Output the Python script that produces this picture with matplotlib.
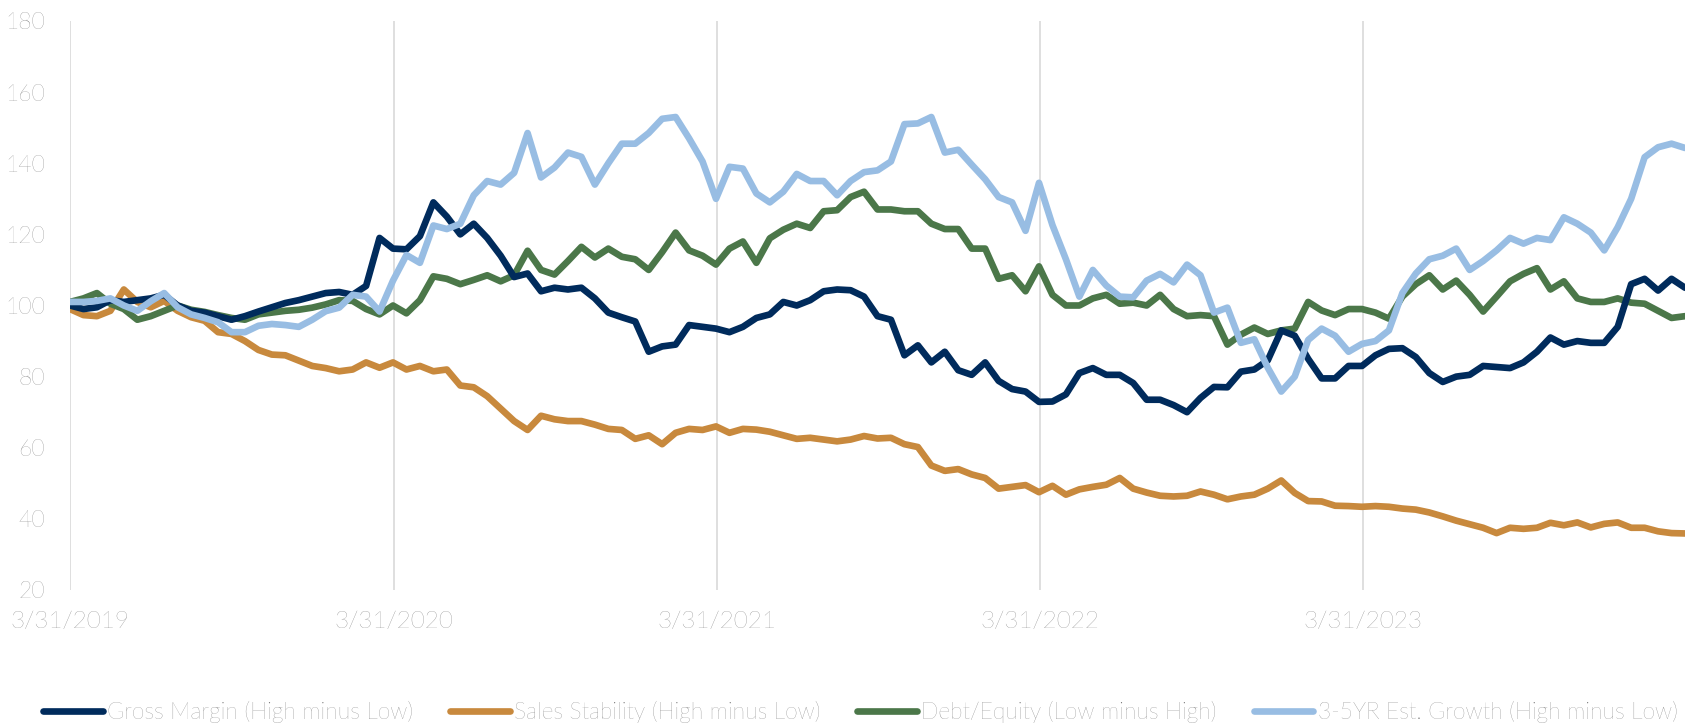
import matplotlib
matplotlib.use("Agg")
import matplotlib.pyplot as plt
import pandas as pd
import numpy as np

# semi-monthly observations, 3/31/2019 .. 3/2024
start_date = "2019-03-31"
end_date = "2024-03-29"

gross_margin = [
    100, 99, 99.5, 101.5, 101, 101.5, 102, 103, 100, 98.5,
    98, 97, 96, 97, 98.3, 99.5, 100.7, 101.5, 102.5, 103.5,
    103.8, 103, 105.5, 119, 116, 115.8, 119.5, 129, 125, 120,
    123, 119, 114, 108, 109, 104, 105, 104.5, 105, 102,
    98, 96.7, 95.5, 87, 88.5, 89, 94.5, 94, 93.5, 92.5,
    94, 96.5, 97.5, 101, 100, 101.5, 104, 104.5, 104.3, 102.5,
    97, 96, 86, 88.8, 84, 87, 81.8, 80.5, 84, 78.8,
    76.5, 75.8, 72.9, 73, 75, 81, 82.4, 80.5, 80.5, 78.2,
    73.5, 73.5, 72, 70, 74, 77.1, 77, 81.4, 82, 84.6,
    93, 91.5, 85, 79.5, 79.5, 83, 83, 86, 87.8, 88,
    85.5, 81, 78.5, 80, 80.5, 83, 82.7, 82.4, 84, 87,
    91, 89, 90, 89.5, 89.5, 94, 106, 107.5, 104.2, 107.5,
    105,
]

sales_stability = [
    99, 97.3, 97, 98.5, 104.5, 101, 99.5, 101.3, 98.5, 96.7,
    95.7, 92.5, 92, 90, 87.5, 86.2, 86, 84.5, 83, 82.4,
    81.5, 82, 84, 82.5, 84, 82, 83, 81.5, 82, 77.5,
    77, 74.5, 71, 67.5, 65, 69, 68, 67.5, 67.5, 66.5,
    65.3, 65, 62.5, 63.5, 61, 64.2, 65.3, 65, 66, 64.2,
    65.3, 65.1, 64.5, 63.5, 62.5, 62.8, 62.3, 61.8, 62.3, 63.3,
    62.6, 62.8, 61, 60.2, 55, 53.5, 54, 52.5, 51.5, 48.5,
    49, 49.5, 47.5, 49.3, 46.8, 48.3, 49, 49.6, 51.5, 48.5,
    47.4, 46.5, 46.3, 46.5, 47.7, 46.8, 45.5, 46.3, 46.8, 48.5,
    50.8, 47.3, 45, 44.9, 43.7, 43.6, 43.4, 43.6, 43.4, 42.9,
    42.6, 41.8, 40.7, 39.5, 38.5, 37.5, 36, 37.5, 37.2, 37.5,
    38.9, 38.2, 39, 37.6, 38.6, 39, 37.5, 37.5, 36.5, 36,
    35.9,
]

debt_equity = [
    101, 102, 103.5, 100.5, 99, 96, 97, 98.5, 100, 98.8,
    98.2, 97.3, 96.5, 96, 97.5, 98, 98.5, 98.8, 99.4, 100.3,
    101.5, 101.3, 99, 97.5, 100, 97.8, 101.5, 108.2, 107.5, 106,
    107.2, 108.5, 106.8, 108.5, 115.4, 110, 108.7, 112.5, 116.5, 113.5,
    116, 113.7, 113, 110, 115, 120.5, 115.5, 114, 111.5, 116,
    118, 112, 118.9, 121.3, 123, 121.8, 126.5, 126.8, 130.5, 132,
    127, 127, 126.5, 126.5, 123, 121.5, 121.5, 116, 116, 107.5,
    108.5, 104, 111, 103, 100, 100, 102, 103, 100.5, 100.8,
    100, 103, 99, 97, 97.3, 97, 89, 91.8, 93.8, 92,
    93, 93.5, 101, 98.6, 97.3, 99, 99, 98, 96.3, 102.5,
    106, 108.5, 104.5, 107, 103, 98.3, 102.5, 106.8, 108.9, 110.5,
    104.5, 106.8, 102, 101, 101, 102, 100.8, 100.5, 98.5, 96.5,
    97,
]

est_growth = [
    101, 101, 101.3, 102, 100, 98.5, 101.2, 103.5, 99.5, 97.5,
    96.5, 95.3, 92.5, 92.5, 94.3, 94.8, 94.5, 94, 96, 98.4,
    99.4, 103, 102.5, 98.3, 107, 114.2, 112, 122.5, 121.5, 123,
    131, 135, 134, 137.3, 148.5, 136, 138.8, 143, 141.8, 134,
    140, 145.5, 145.5, 148.5, 152.5, 153, 147, 140.5, 130, 139,
    138.5, 131.5, 129, 132, 137, 135, 135, 131, 135, 137.5,
    138, 140.5, 151, 151.2, 153, 143, 143.8, 139.6, 135.5, 130.5,
    129, 121, 134.5, 122.6, 113, 102.5, 110, 105.6, 102.5, 102.3,
    107, 108.9, 106.5, 111.5, 108.5, 98, 99.4, 89.5, 90.5, 82.5,
    75.8, 80, 90.3, 93.5, 91.5, 87, 89.2, 90, 93, 103.5,
    109, 113, 114, 116, 110, 112.5, 115.5, 119, 117.4, 119,
    118.4, 124.8, 123, 120.5, 115.5, 122, 130, 141.7, 144.5, 145.5,
    144.3,
]

series_labels = [
    "Gross Margin (High minus Low)",
    "Sales Stability (High minus Low)",
    "Debt/Equity (Low minus High)",
    "3-5YR Est. Growth (High minus Low)",
]
tick_dates = ["2019-03-31", "2020-03-31", "2021-03-31", "2022-03-31", "2023-03-31"]
tick_labels = ["3/31/2019", "3/31/2020", "3/31/2021", "3/31/2022", "3/31/2023"]
y_ticks = [20, 40, 60, 80, 100, 120, 140, 160, 180]

colors = ["#002b5c", "#c8893d", "#4b7749", "#98bde3"]

dates = pd.date_range(start_date, end_date, periods=len(gross_margin))

plt.rcParams["font.family"] = ["Lato", "DejaVu Sans"]
text_color = "#6f6f6f"
fsize = 16.5

fig = plt.figure(figsize=(16.87, 7.26), dpi=100)
ax = fig.add_axes([70 / 1687, 1 - 590 / 726, 1615 / 1687, 569 / 726])

data = [gross_margin, sales_stability, debt_equity, est_growth]
z = [3, 1, 2, 4]
handles = []
for vals, c, lab, zz in zip(data, colors, series_labels, z):
    (h,) = ax.plot(dates, vals, color=c, lw=4.8, label=lab, zorder=zz,
                   solid_joinstyle="round", solid_capstyle="round")
    handles.append(h)

ax.set_ylim(20, 180)
ax.set_yticks(y_ticks)
ax.set_xlim(pd.Timestamp(start_date), pd.Timestamp(end_date))
ax.set_xticks(pd.to_datetime(tick_dates))
ax.set_xticklabels(tick_labels)
ax.grid(axis="x", color="#d9d9d9", lw=1.2)
ax.set_axisbelow(True)
for s in ax.spines.values():
    s.set_visible(False)
ax.tick_params(axis="both", length=0, labelcolor=text_color)
ax.tick_params(axis="y", pad=18, labelsize=fsize)
ax.tick_params(axis="x", pad=15, labelsize=17.5)
for lbl in ax.get_xticklabels() + ax.get_yticklabels():
    lbl.set_fontweight("light")

leg = fig.legend(handles=handles, labels=series_labels, loc="center",
                 bbox_to_anchor=(0.51, 0.02), ncol=4, frameon=False,
                 handlelength=2.6, handletextpad=0.2,
                 columnspacing=1.6, labelcolor=text_color,
                 prop={"family": ["Lato", "DejaVu Sans"], "weight": "light", "size": fsize})

fig.savefig("out.png", dpi=100, facecolor="white")
